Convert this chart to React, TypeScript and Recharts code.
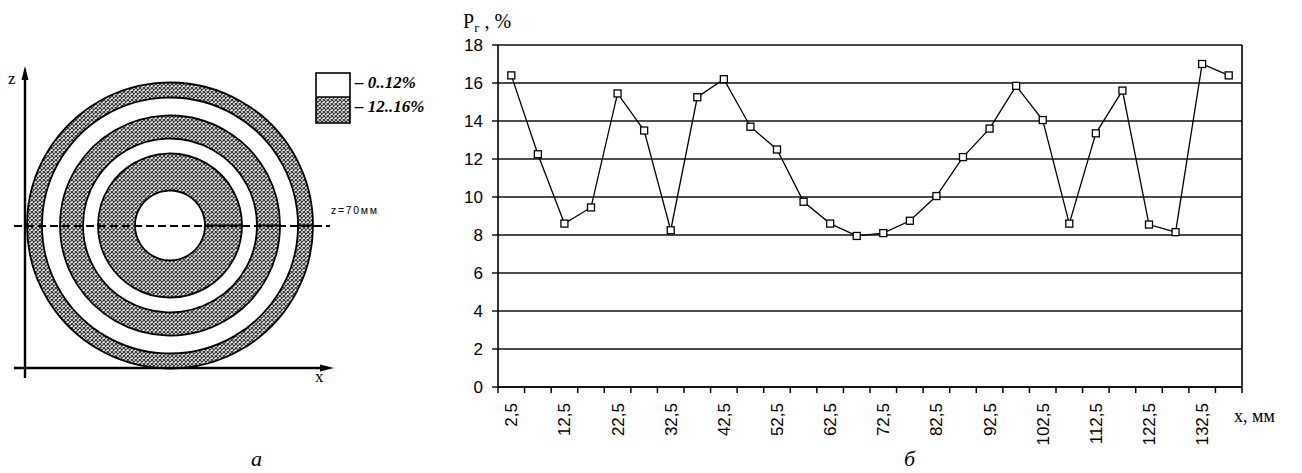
import React from 'react';
import {
  LineChart,
  Line,
  XAxis,
  YAxis,
  CartesianGrid,
  ReferenceLine,
  PieChart,
  Pie,
} from 'recharts';

// x position along the sample, mm
const positions = [
  2.5, 7.5, 12.5, 17.5, 22.5, 27.5, 32.5, 37.5, 42.5, 47.5, 52.5, 57.5, 62.5, 67.5,
  72.5, 77.5, 82.5, 87.5, 92.5, 97.5, 102.5, 107.5, 112.5, 117.5, 122.5, 127.5, 132.5, 137.5,
];
// porosity Pг, %
const porosity = [
  16.4, 12.25, 8.6, 9.45, 15.45, 13.5, 8.25, 15.25, 16.2, 13.7, 12.5, 9.75, 8.6, 7.95,
  8.1, 8.75, 10.05, 12.1, 13.6, 15.85, 14.05, 8.6, 13.35, 15.6, 8.55, 8.15, 17.0, 16.4,
];
const yTicks = [0, 2, 4, 6, 8, 10, 12, 14, 16, 18];
const xTickMarks = [
  0, 5, 10, 15, 20, 25, 30, 35, 40, 45, 50, 55, 60, 65, 70, 75, 80, 85, 90, 95, 100,
  105, 110, 115, 120, 125, 130, 135, 140,
];
const xLabels = [2.5, 12.5, 22.5, 32.5, 42.5, 52.5, 62.5, 72.5, 82.5, 92.5, 102.5, 112.5, 122.5, 132.5];

// rings of the cross-section (a), high-porosity bands
const bands = [
  { name: 'outer', inner: 128, outer: 143 },
  { name: 'middle', inner: 87, outer: 110 },
  { name: 'inner', inner: 35, outer: 72 },
];

const data = positions.map((x, i) => ({ x, p: porosity[i] }));
const allTicks = [...xTickMarks, ...xLabels].sort((a, b) => a - b);

const SANS = "Arial, 'Liberation Sans', sans-serif";
const SERIF = "'Times New Roman', 'Liberation Serif', serif";

function SquareDot(props: any) {
  const { cx, cy } = props;
  if (cx == null || cy == null) return null;
  return <rect x={cx - 3.5} y={cy - 3.5} width={7} height={7} fill="#fff" stroke="#000" strokeWidth={1.3} />;
}

function XTick(props: any) {
  const { x, y, payload } = props;
  const v = payload.value;
  if (xLabels.includes(v)) {
    return (
      <text
        x={x + 6}
        y={y + 16}
        transform={`rotate(-90 ${x + 6} ${y + 16})`}
        textAnchor="end"
        fontFamily={SANS}
        fontSize={17}
        fill="#000"
      >
        {String(v).replace('.', ',')}
      </text>
    );
  }
  return <line x1={x} y1={y} x2={x} y2={y + 6} stroke="#000" strokeWidth={1.5} />;
}

export default function App() {
  return (
    <div style={{ position: 'absolute', left: 0, top: 0, width: 1302, height: 473, background: '#fff' }}>
      <svg width={0} height={0} style={{ position: 'absolute' }}>
        <defs>
          <pattern id="hatch" width={4} height={4} patternUnits="userSpaceOnUse">
            <rect width={4} height={4} fill="#fff" />
            <path d="M0,0 L4,4 M4,0 L0,4" stroke="#333" strokeWidth={1.2} />
          </pattern>
        </defs>
      </svg>

      <div style={{ position: 'absolute', left: 0, top: 0 }}>
        <PieChart width={340} height={400} margin={{ top: 0, right: 0, bottom: 0, left: 0 }}>
          {bands.map((b) => (
            <Pie
              key={b.name}
              data={[{ name: b.name, value: 1 }]}
              dataKey="value"
              cx={170}
              cy={225.5}
              innerRadius={b.inner}
              outerRadius={b.outer}
              startAngle={0}
              endAngle={360}
              fill="url(#hatch)"
              stroke="#000"
              strokeWidth={1.8}
              isAnimationActive={false}
            />
          ))}
        </PieChart>
      </div>

      <div style={{ position: 'absolute', left: 430, top: 0 }}>
        <LineChart width={820} height={473} data={data} margin={{ top: 45, right: 8, bottom: 0, left: 0 }}>
          <CartesianGrid vertical={false} stroke="#111" strokeWidth={1.4} />
          <XAxis
            type="number"
            dataKey="x"
            domain={[0, 140]}
            ticks={allTicks}
            interval={0}
            tick={<XTick />}
            tickLine={false}
            tickSize={0}
            tickMargin={0}
            height={86}
            axisLine={{ stroke: '#000', strokeWidth: 1.6 }}
          />
          <YAxis
            domain={[0, 18]}
            ticks={yTicks}
            interval={0}
            width={68}
            tickSize={6}
            tickMargin={9}
            tickLine={{ stroke: '#000', strokeWidth: 1.4 }}
            axisLine={{ stroke: '#000', strokeWidth: 1.6 }}
            tick={{ fill: '#000', fontFamily: SANS, fontSize: 17 }}
          />
          <ReferenceLine x={140} stroke="#000" strokeWidth={1.6} />
          <Line
            type="linear"
            dataKey="p"
            stroke="#000"
            strokeWidth={1.3}
            dot={<SquareDot />}
            activeDot={false}
            isAnimationActive={false}
          />
        </LineChart>
      </div>

      <svg width={1302} height={473} style={{ position: 'absolute', left: 0, top: 0, pointerEvents: 'none' }}>
        {/* cross-section axes */}
        <line x1={25} y1={378} x2={25} y2={76} stroke="#000" strokeWidth={2.4} />
        <path d="M25,66 L21.5,80 L28.5,80 Z" fill="#000" />
        <line x1={14} y1={368} x2={324} y2={368} stroke="#000" strokeWidth={2.4} />
        <path d="M334,368 L320,364.5 L320,371.5 Z" fill="#000" />
        <text x={8} y={84} fontFamily={SERIF} fontSize={17} fill="#000">z</text>
        <text x={315} y={382} fontFamily={SERIF} fontSize={17} fill="#000">x</text>
        <line x1={14} y1={226} x2={330} y2={226} stroke="#000" strokeWidth={2} strokeDasharray="8 4" />
        <text x={331} y={214} fontFamily={SANS} fontSize={10.5} textLength={46} fill="#000">z=70мм</text>

        {/* legend */}
        <rect x={316} y={97} width={34} height={26} fill="url(#hatch)" />
        <rect x={316} y={73} width={34} height={50} fill="none" stroke="#000" strokeWidth={1.6} />
        <line x1={316} y1={97} x2={350} y2={97} stroke="#000" strokeWidth={1.4} />
        <text x={355} y={88} fontFamily={SERIF} fontSize={17} fontStyle="italic" fontWeight="bold" fill="#000">– 0..12%</text>
        <text x={355} y={112} fontFamily={SERIF} fontSize={17} fontStyle="italic" fontWeight="bold" fill="#000">– 12..16%</text>
        <text x={251} y={466} fontFamily={SERIF} fontSize={22} fontStyle="italic" fill="#000">а</text>

        {/* chart titles */}
        <text x={463} y={28} fontFamily={SERIF} fontSize={20} fill="#000">
          P<tspan fontSize={13} dy={4}>г</tspan>
          <tspan dy={-4}> , %</tspan>
        </text>
        <text x={1234} y={422} fontFamily={SERIF} fontSize={18} fill="#000">x, мм</text>
        <text x={904} y={466} fontFamily={SERIF} fontSize={22} fontStyle="italic" fill="#000">б</text>
      </svg>
    </div>
  );
}
